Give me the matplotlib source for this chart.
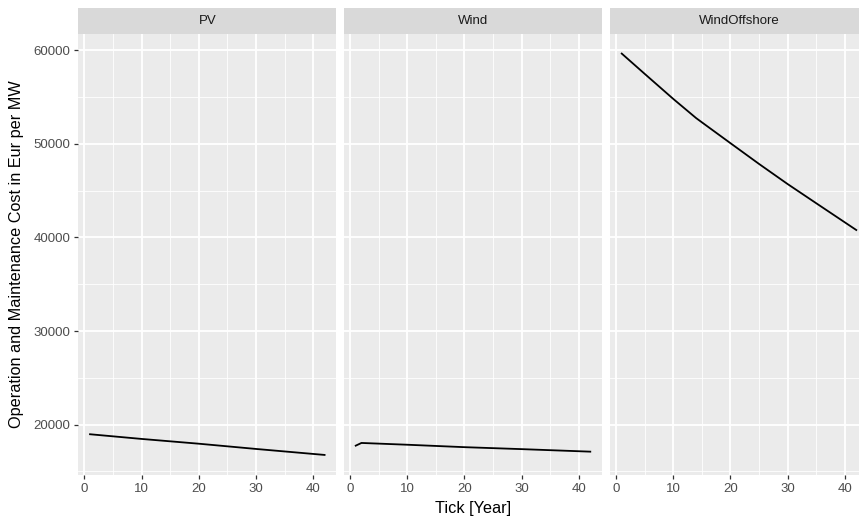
import numpy as np
import matplotlib.pyplot as plt
from matplotlib.ticker import MultipleLocator

plt.rcParams['font.family'] = ['Liberation Sans', 'DejaVu Sans']

# values
panels = ["PV", "Wind", "WindOffshore"]

pv_tick = [1, 10, 20, 30, 42]
pv_cost = [18970, 18470, 17960, 17400, 16760]

wind_tick = [1, 2, 10, 20, 30, 42]
wind_cost = [17750, 18040, 17850, 17590, 17380, 17110]

off_tick = [1, 5, 10, 14, 15, 20, 25, 30, 35, 42]
off_cost = [59640, 57480, 54800, 52750, 52300, 50070, 47850, 45700, 43650, 40790]

series = [(pv_tick, pv_cost), (wind_tick, wind_cost), (off_tick, off_cost)]

# ggplot style shared scales with 5% expansion
all_x = np.concatenate([pv_tick, wind_tick, off_tick])
all_y = np.concatenate([pv_cost, wind_cost, off_cost])
xr = all_x.max() - all_x.min()
yr = all_y.max() - all_y.min()
xlim = (all_x.min() - 0.05 * xr, all_x.max() + 0.05 * xr)
ylim = (all_y.min() - 0.05 * yr, all_y.max() + 0.05 * yr)

W, H = 859, 519
fig = plt.figure(figsize=(W / 100, H / 100), dpi=100)

lefts = [78.3, 344.0, 610.0]
pw = 258.0
top, bottom = 33.5, 475.0
strip_top = 7.5

for i, (name, (tx, cy)) in enumerate(zip(panels, series)):
    l = lefts[i]
    ax = fig.add_axes([l / W, (H - bottom) / H, pw / W, (bottom - top) / H])
    ax.set_facecolor("#EBEBEB")
    ax.plot(tx, cy, color="black", lw=1.3, zorder=3)
    ax.set_xlim(xlim)
    ax.set_ylim(ylim)
    ax.xaxis.set_major_locator(MultipleLocator(10))
    ax.xaxis.set_minor_locator(MultipleLocator(5))
    ax.yaxis.set_major_locator(MultipleLocator(10000))
    ax.yaxis.set_minor_locator(MultipleLocator(5000))
    ax.grid(which="major", color="white", lw=1.3)
    ax.grid(which="minor", color="white", lw=0.6)
    ax.set_axisbelow(True)
    for s in ax.spines.values():
        s.set_visible(False)
    ax.tick_params(which="major", length=3, width=0.9, color="#333333",
                   labelsize=9.5, labelcolor="#4D4D4D", pad=2.5)
    ax.tick_params(which="minor", length=0)
    if i > 0:
        ax.tick_params(axis="y", which="both", left=False, labelleft=False)

    sax = fig.add_axes([l / W, (H - top) / H, pw / W, (top - strip_top) / H])
    sax.set_facecolor("#D9D9D9")
    sax.set_xticks([])
    sax.set_yticks([])
    for s in sax.spines.values():
        s.set_visible(False)
    sax.text(0.5, 0.5, name, ha="center", va="center", fontsize=9.5,
             color="#1A1A1A", transform=sax.transAxes)

fig.text(473 / W, 1 - 508 / H, "Tick [Year]", ha="center", va="center",
         fontsize=11.7, color="black")
fig.text(17 / W, 1 - 254 / H, "Operation and Maintenance Cost in Eur per MW",
         ha="center", va="center", rotation=90, fontsize=11.7, color="black")

fig.savefig("out.png", dpi=100)
